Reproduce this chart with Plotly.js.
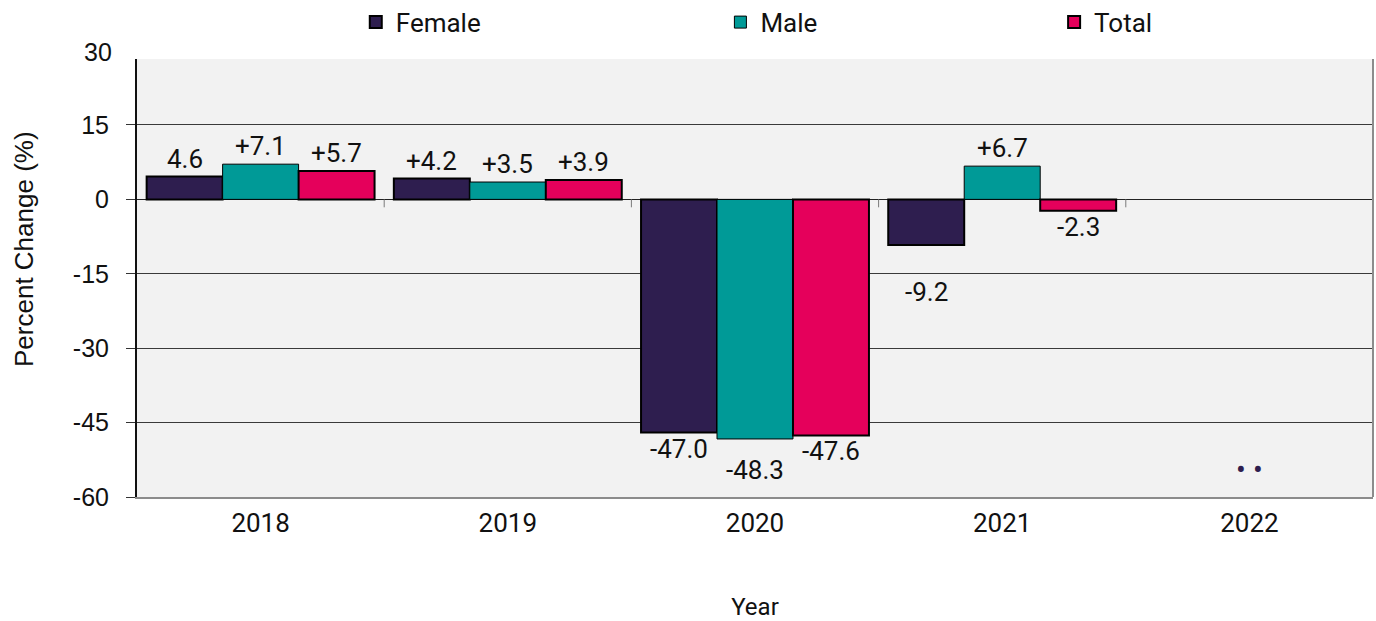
<!DOCTYPE html>
<html>
<head>
<meta charset="utf-8">
<script src="https://cdn.plot.ly/plotly-3.0.1.min.js"></script>
<style>html,body{margin:0;padding:0;background:#fff;}#chart{width:1376px;height:621px;}</style>
</head>
<body>
<div id="chart"></div>
<script>
// ---- data ----
const years = ['2018', '2019', '2020', '2021', '2022'];
const female = [4.6, 4.2, -47.0, -9.2, null];
const male = [7.1, 3.5, -48.3, 6.7, null];
const total = [5.7, 3.9, -47.6, -2.3, null];
const femaleLabels = ['4.6', '+4.2', '-47.0', '-9.2', ''];
const maleLabels = ['+7.1', '+3.5', '-48.3', '+6.7', ''];
const totalLabels = ['+5.7', '+3.9', '-47.6', '-2.3', ''];
const missingYear = '2022';
const missingText = '\u2022 \u2022';
const missingValue = -54.5;
const yTicks = [-60, -45, -30, -15, 0, 15, 30];
const yTitle = 'Percent Change (%)';
const xTitle = 'Year';

// ---- style ----
const colors = {Female: '#2E1E4F', Male: '#009A97', Total: '#E5005B'};
const FONT = 'Roboto, Arial, sans-serif';
const AFONT = '"Liberation Sans", Arial, sans-serif';
const TXT = '#111111';
const bargap = 0.078;
const barW = (1 - bargap) / 3;

const series = [
  {name: 'Female', y: female, labels: femaleLabels, lw: 2, legend: 'legend'},
  {name: 'Male', y: male, labels: maleLabels, lw: 1, legend: 'legend2'},
  {name: 'Total', y: total, labels: totalLabels, lw: 2, legend: 'legend3'}
];

const traces = series.map(s => ({
  type: 'bar', name: s.name, x: years, y: s.y,
  marker: {color: colors[s.name], line: {color: '#000', width: s.lw}},
  legend: s.legend, hoverinfo: 'x+y+name'
}));

// label offsets (px) for specific labels
const shiftOverride = {'-48.3': -31, '-9.2': -47};

const annotations = [];
series.forEach((s, k) => {
  s.y.forEach((v, i) => {
    if (v === null || v === undefined) return;
    const lab = s.labels[i];
    let sh = v >= 0 ? 18 : -16;
    if (shiftOverride[lab] !== undefined) sh = shiftOverride[lab];
    annotations.push({
      xref: 'x', yref: 'y', x: i + (k - 1) * barW, y: v, text: lab,
      showarrow: false, yshift: sh, xanchor: 'center', yanchor: 'middle',
      font: {family: FONT, size: 26, color: TXT}
    });
  });
});
annotations.push({
  xref: 'x', yref: 'y', x: years.indexOf(missingYear), y: missingValue, text: missingText,
  showarrow: false, font: {family: FONT, size: 29, color: colors.Female}
});
// top tick label (above plotting area)
annotations.push({
  xref: 'paper', yref: 'paper', x: 0, y: 1, text: String(yTicks[yTicks.length - 1]),
  showarrow: false, xanchor: 'right', yanchor: 'middle', xshift: -23, yshift: 7,
  font: {family: AFONT, size: 25, color: TXT}
});
// y axis title
annotations.push({
  xref: 'paper', yref: 'paper', x: 0, y: 0.5, text: yTitle, textangle: -90,
  showarrow: false, xanchor: 'center', yanchor: 'middle', xshift: -113, yshift: 29,
  font: {family: AFONT, size: 26, color: TXT}
});

const shapes = [
  // right border
  {type: 'line', xref: 'paper', yref: 'paper', x0: 1, x1: 1, y0: 0, y1: 1,
   line: {color: '#8c8c8c', width: 2}}
];
// category tick marks on the zero line
for (let i = 0; i < years.length - 1; i++) {
  shapes.push({type: 'line', xref: 'x', yref: 'y', x0: i + 0.5, x1: i + 0.5, y0: 0, y1: -1.6,
    line: {color: '#7a7a7a', width: 1}});
}

const legendBase = {orientation: 'h', yref: 'paper', y: 1.084, yanchor: 'middle', xanchor: 'left',
  bgcolor: 'rgba(0,0,0,0)', font: {family: FONT, size: 26, color: TXT}, itemclick: false};

const layout = {
  width: 1376, height: 621,
  margin: {l: 137, r: 3, t: 59, b: 124, autoexpand: false},
  paper_bgcolor: '#ffffff', plot_bgcolor: '#f2f2f2',
  font: {family: FONT, size: 24, color: TXT},
  barmode: 'group', bargap: bargap, bargroupgap: 0,
  showlegend: true,
  legend: Object.assign({}, legendBase, {x: 0.177}),
  legend2: Object.assign({}, legendBase, {x: 0.472}),
  legend3: Object.assign({}, legendBase, {x: 0.742}),
  xaxis: {
    type: 'category', showgrid: false, zeroline: false,
    showline: true, linecolor: '#8c8c8c', linewidth: 2,
    ticks: '', ticklabelstandoff: 2, tickfont: {family: FONT, size: 26, color: TXT},
    title: {text: xTitle, font: {family: FONT, size: 24, color: TXT}, standoff: 79},
    automargin: false
  },
  yaxis: {
    range: [-60, 28.3], tickvals: yTicks, ticktext: yTicks.map(String),
    showgrid: true, gridcolor: '#3a3a3a', gridwidth: 1,
    zeroline: true, zerolinecolor: '#222', zerolinewidth: 1,
    showline: true, linecolor: '#111', linewidth: 2,
    ticks: 'outside', ticklen: 9, tickcolor: '#333', tickwidth: 1,
    ticklabelstandoff: 12,
    tickfont: {family: AFONT, size: 25, color: TXT},
    automargin: false
  },
  annotations: annotations,
  shapes: shapes
};

Plotly.newPlot('chart', traces, layout, {displayModeBar: false, staticPlot: true});
</script>
</body>
</html>
